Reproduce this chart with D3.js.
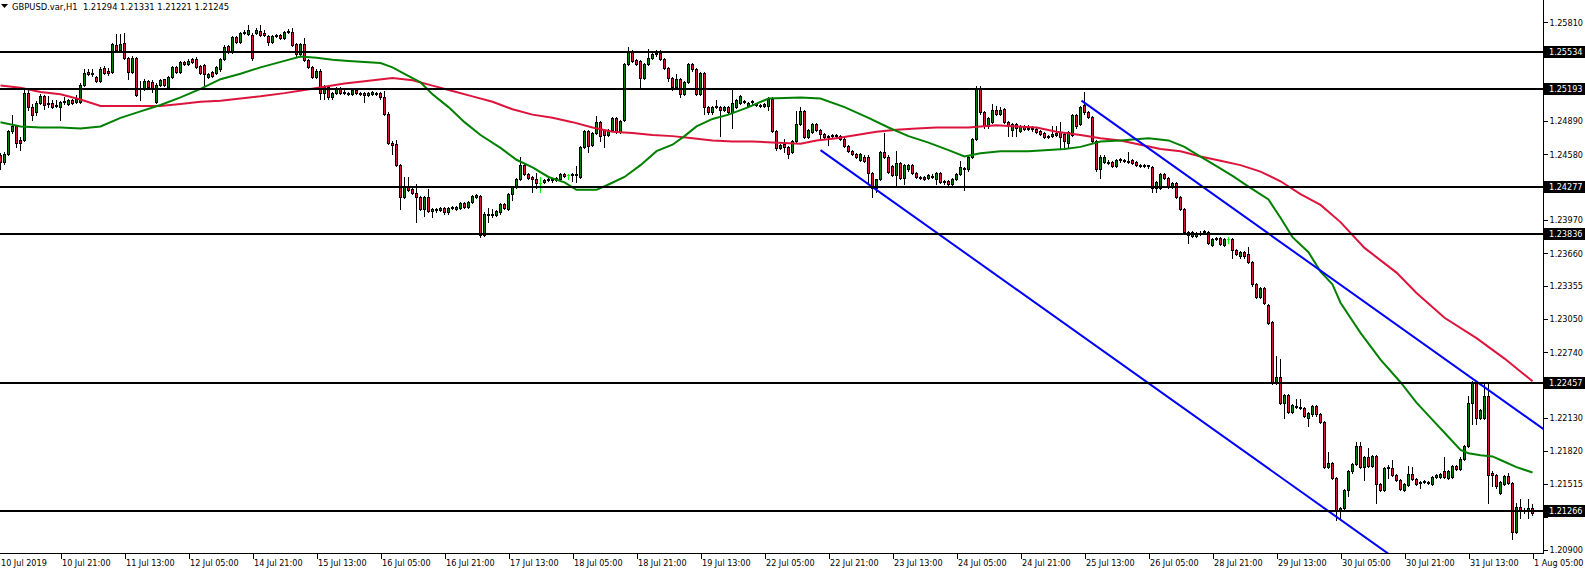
<!DOCTYPE html>
<html><head><meta charset="utf-8">
<script src="https://cdnjs.cloudflare.com/ajax/libs/d3/7.8.5/d3.min.js"></script>
<style>
html,body{margin:0;padding:0;background:#fff;overflow:hidden;}
svg{display:block;}
text{font-family:"DejaVu Sans Condensed","Liberation Sans",sans-serif;}
</style></head><body>
<svg id="c" width="1585" height="571"></svg>
<script>
const symbolTitle = "GBPUSD.var,H1";
const lastOHLC = [1.21294, 1.21331, 1.21221, 1.21245];

const opens = [
1.2457,1.2451,1.2458,1.2480,1.2484,1.2471,1.2471,1.2515,1.2502,1.2497,
1.2506,1.2512,1.2505,1.2506,1.2503,1.2502,1.2507,1.2505,1.2509,1.2507,
1.2507,1.2523,1.2535,1.2534,1.2530,1.2526,1.2538,1.2536,1.2535,1.2560,
1.2555,1.2562,1.2548,1.2535,1.2548,1.2520,1.2519,1.2526,1.2525,1.2507,
1.2523,1.2528,1.2521,1.2530,1.2539,1.2535,1.2544,1.2542,1.2547,1.2547,
1.2540,1.2541,1.2530,1.2535,1.2534,1.2537,1.2547,1.2559,1.2553,1.2567,
1.2563,1.2571,1.2570,1.2569,1.2571,1.2573,1.2571,1.2568,1.2563,1.2568,
1.2569,1.2566,1.2572,1.2572,1.2561,1.2551,1.2561,1.2546,1.2539,1.2530,
1.2536,1.2515,1.2521,1.2511,1.2515,1.2520,1.2516,1.2515,1.2514,1.2518,
1.2515,1.2515,1.2513,1.2514,1.2515,1.2515,1.2511,1.2496,1.2469,1.2468,
1.2448,1.2418,1.2429,1.2426,1.2422,1.2418,1.2407,1.2418,1.2405,1.2407,
1.2406,1.2408,1.2404,1.2408,1.2407,1.2408,1.2413,1.2409,1.2414,1.2418,
1.2419,1.2383,1.2403,1.2402,1.2402,1.2404,1.2412,1.2407,1.2421,1.2428,
1.2435,1.2448,1.2440,1.2437,1.2435,1.2431,1.2432,1.2434,1.2434,1.2434,
1.2435,1.2440,1.2439,1.2439,1.2439,1.2437,1.2465,1.2480,1.2467,1.2478,
1.2488,1.2481,1.2476,1.2481,1.2492,1.2479,1.2490,1.2542,1.2553,1.2546,
1.2545,1.2529,1.2542,1.2548,1.2551,1.2552,1.2547,1.2538,1.2529,1.2521,
1.2528,1.2514,1.2525,1.2542,1.2537,1.2514,1.2534,1.2502,1.2497,1.2502,
1.2502,1.2499,1.2502,1.2497,1.2502,1.2506,1.2507,1.2503,1.2507,1.2505,
1.2504,1.2503,1.2503,1.2510,1.2480,1.2464,1.2468,1.2465,1.2460,1.2470,
1.2486,1.2498,1.2474,1.2479,1.2486,1.2481,1.2477,1.2474,1.2475,1.2476,
1.2475,1.2472,1.2466,1.2461,1.2458,1.2453,1.2456,1.2456,1.2441,1.2427,
1.2435,1.2460,1.2456,1.2447,1.2439,1.2450,1.2436,1.2444,1.2448,1.2441,
1.2437,1.2437,1.2436,1.2438,1.2435,1.2441,1.2432,1.2433,1.2430,1.2435,
1.2440,1.2444,1.2444,1.2456,1.2472,1.2520,1.2497,1.2484,1.2488,1.2499,
1.2496,1.2500,1.2488,1.2481,1.2486,1.2480,1.2484,1.2483,1.2483,1.2482,
1.2480,1.2478,1.2474,1.2475,1.2476,1.2479,1.2477,1.2469,1.2476,1.2495,
1.2486,1.2504,1.2497,1.2493,1.2470,1.2444,1.2451,1.2451,1.2451,1.2447,
1.2453,1.2453,1.2452,1.2453,1.2451,1.2448,1.2448,1.2447,1.2446,1.2427,
1.2427,1.2440,1.2436,1.2428,1.2431,1.2418,1.2407,1.2383,1.2382,1.2382,
1.2385,1.2386,1.2386,1.2374,1.2380,1.2380,1.2374,1.2379,1.2379,1.2369,
1.2363,1.2367,1.2365,1.2358,1.2337,1.2325,1.2334,1.2318,1.2302,1.2246,
1.2251,1.2227,1.2234,1.2218,1.2224,1.2223,1.2222,1.2213,1.2216,1.2224,
1.2216,1.2209,1.2167,1.2171,1.2157,1.2126,1.2129,1.2146,1.2163,1.2170,
1.2187,1.2167,1.2176,1.2168,1.2177,1.2151,1.2146,1.2166,1.2166,1.2160,
1.2155,1.2146,1.2150,1.2161,1.2156,1.2153,1.2154,1.2153,1.2151,1.2158,
1.2158,1.2163,1.2157,1.2158,1.2168,1.2165,1.2175,1.2187,1.2227,1.2246,
1.2213,1.2213,1.2233,1.2162,1.2160,1.2143,1.2151,1.2159,1.2152,1.2107,
1.2130,1.2127,1.2126,1.21294];

const highs = [
1.2459,1.2460,1.2481,1.2495,1.2485,1.2474,1.2519,1.2519,1.2505,1.2508,
1.2514,1.2513,1.2512,1.2509,1.2509,1.2508,1.2511,1.2510,1.2510,1.2513,
1.2524,1.2537,1.2537,1.2537,1.2531,1.2539,1.2540,1.2538,1.2562,1.2570,
1.2570,1.2571,1.2549,1.2550,1.2549,1.2526,1.2528,1.2527,1.2527,1.2524,
1.2528,1.2528,1.2531,1.2540,1.2540,1.2545,1.2545,1.2547,1.2548,1.2549,
1.2541,1.2542,1.2534,1.2536,1.2540,1.2548,1.2560,1.2560,1.2568,1.2568,
1.2572,1.2574,1.2578,1.2571,1.2576,1.2578,1.2574,1.2569,1.2569,1.2570,
1.2570,1.2573,1.2575,1.2576,1.2562,1.2562,1.2566,1.2547,1.2540,1.2537,
1.2537,1.2523,1.2522,1.2516,1.2521,1.2521,1.2518,1.2516,1.2519,1.2519,
1.2516,1.2516,1.2516,1.2517,1.2516,1.2516,1.2517,1.2497,1.2470,1.2471,
1.2449,1.2437,1.2437,1.2427,1.2430,1.2419,1.2419,1.2426,1.2408,1.2408,
1.2409,1.2409,1.2409,1.2410,1.2410,1.2414,1.2414,1.2415,1.2420,1.2421,
1.2420,1.2404,1.2408,1.2407,1.2406,1.2413,1.2413,1.2422,1.2429,1.2436,
1.2456,1.2449,1.2441,1.2438,1.2441,1.2437,1.2435,1.2436,1.2435,1.2437,
1.2441,1.2441,1.2440,1.2441,1.2447,1.2466,1.2481,1.2481,1.2479,1.2494,
1.2489,1.2482,1.2482,1.2493,1.2493,1.2490,1.2543,1.2558,1.2555,1.2547,
1.2546,1.2543,1.2556,1.2552,1.2555,1.2555,1.2548,1.2539,1.2530,1.2533,
1.2529,1.2526,1.2543,1.2543,1.2538,1.2535,1.2535,1.2503,1.2503,1.2509,
1.2503,1.2503,1.2503,1.2518,1.2510,1.2513,1.2509,1.2507,1.2509,1.2506,
1.2505,1.2506,1.2511,1.2511,1.2481,1.2468,1.2472,1.2466,1.2471,1.2498,
1.2502,1.2499,1.2482,1.2487,1.2487,1.2482,1.2478,1.2476,1.2477,1.2477,
1.2476,1.2473,1.2467,1.2462,1.2459,1.2459,1.2457,1.2457,1.2442,1.2435,
1.2461,1.2478,1.2457,1.2448,1.2461,1.2451,1.2449,1.2449,1.2449,1.2442,
1.2438,1.2438,1.2440,1.2440,1.2442,1.2442,1.2434,1.2434,1.2436,1.2441,
1.2452,1.2446,1.2457,1.2473,1.2522,1.2522,1.2498,1.2493,1.2505,1.2503,
1.2502,1.2501,1.2489,1.2487,1.2487,1.2485,1.2485,1.2485,1.2484,1.2483,
1.2481,1.2479,1.2476,1.2484,1.2484,1.2488,1.2478,1.2480,1.2496,1.2496,
1.2503,1.2516,1.2498,1.2494,1.2471,1.2457,1.2457,1.2453,1.2452,1.2454,
1.2455,1.2454,1.2460,1.2454,1.2452,1.2449,1.2449,1.2448,1.2447,1.2433,
1.2441,1.2441,1.2437,1.2432,1.2432,1.2419,1.2408,1.2387,1.2387,1.2386,
1.2387,1.2388,1.2387,1.2380,1.2381,1.2381,1.2380,1.2381,1.2380,1.2370,
1.2368,1.2368,1.2372,1.2359,1.2338,1.2335,1.2335,1.2319,1.2303,1.2270,
1.2268,1.2235,1.2235,1.2226,1.2230,1.2230,1.2223,1.2218,1.2225,1.2225,
1.2217,1.2210,1.2181,1.2172,1.2158,1.2130,1.2147,1.2164,1.2171,1.2190,
1.2190,1.2177,1.2185,1.2178,1.2178,1.2152,1.2167,1.2169,1.2174,1.2161,
1.2156,1.2152,1.2168,1.2167,1.2157,1.2154,1.2155,1.2154,1.2159,1.2161,
1.2162,1.2176,1.2164,1.2169,1.2169,1.2176,1.2188,1.2233,1.2247,1.2247,
1.2221,1.2246,1.2244,1.2163,1.2161,1.2154,1.2160,1.2162,1.2153,1.2134,
1.2137,1.2129,1.2137,1.21331];

const lows = [
1.2444,1.2449,1.2457,1.2478,1.2465,1.2462,1.2470,1.2499,1.2490,1.2495,
1.2505,1.2500,1.2502,1.2501,1.2502,1.2490,1.2505,1.2504,1.2505,1.2506,
1.2506,1.2522,1.2532,1.2531,1.2525,1.2525,1.2533,1.2532,1.2534,1.2555,
1.2555,1.2547,1.2528,1.2534,1.2512,1.2509,1.2518,1.2520,1.2516,1.2506,
1.2522,1.2522,1.2520,1.2529,1.2534,1.2534,1.2541,1.2541,1.2543,1.2538,
1.2533,1.2523,1.2529,1.2530,1.2533,1.2536,1.2546,1.2552,1.2552,1.2562,
1.2562,1.2570,1.2569,1.2546,1.2570,1.2568,1.2568,1.2560,1.2562,1.2567,
1.2565,1.2565,1.2571,1.2559,1.2550,1.2550,1.2545,1.2538,1.2529,1.2529,
1.2510,1.2510,1.2510,1.2510,1.2514,1.2514,1.2514,1.2513,1.2513,1.2514,
1.2513,1.2507,1.2512,1.2513,1.2513,1.2510,1.2495,1.2468,1.2458,1.2447,
1.2407,1.2417,1.2424,1.2421,1.2395,1.2406,1.2401,1.2404,1.2400,1.2404,
1.2405,1.2403,1.2403,1.2407,1.2406,1.2407,1.2408,1.2408,1.2413,1.2417,
1.2381,1.2382,1.2395,1.2400,1.2401,1.2403,1.2407,1.2406,1.2416,1.2427,
1.2434,1.2439,1.2435,1.2423,1.2427,1.2423,1.2431,1.2433,1.2432,1.2433,
1.2434,1.2437,1.2435,1.2433,1.2432,1.2436,1.2464,1.2460,1.2466,1.2477,
1.2470,1.2465,1.2475,1.2480,1.2478,1.2478,1.2489,1.2541,1.2544,1.2541,
1.2521,1.2528,1.2541,1.2547,1.2550,1.2546,1.2537,1.2526,1.2518,1.2520,
1.2511,1.2513,1.2524,1.2536,1.2513,1.2513,1.2496,1.2496,1.2496,1.2501,
1.2475,1.2498,1.2496,1.2483,1.2501,1.2505,1.2506,1.2502,1.2505,1.2503,
1.2502,1.2502,1.2499,1.2479,1.2462,1.2463,1.2460,1.2455,1.2459,1.2469,
1.2485,1.2473,1.2473,1.2478,1.2480,1.2473,1.2473,1.2467,1.2474,1.2474,
1.2471,1.2465,1.2460,1.2457,1.2455,1.2452,1.2451,1.2430,1.2418,1.2423,
1.2434,1.2455,1.2441,1.2438,1.2429,1.2435,1.2430,1.2443,1.2440,1.2436,
1.2435,1.2434,1.2435,1.2436,1.2430,1.2431,1.2430,1.2429,1.2429,1.2434,
1.2439,1.2425,1.2443,1.2455,1.2471,1.2496,1.2483,1.2483,1.2487,1.2495,
1.2495,1.2487,1.2475,1.2475,1.2475,1.2479,1.2481,1.2481,1.2480,1.2478,
1.2476,1.2473,1.2473,1.2474,1.2475,1.2464,1.2465,1.2464,1.2475,1.2483,
1.2485,1.2496,1.2492,1.2469,1.2443,1.2436,1.2450,1.2449,1.2446,1.2446,
1.2451,1.2451,1.2450,1.2449,1.2447,1.2446,1.2446,1.2445,1.2423,1.2423,
1.2426,1.2435,1.2427,1.2427,1.2417,1.2406,1.2385,1.2376,1.2381,1.2381,
1.2383,1.2384,1.2375,1.2373,1.2378,1.2374,1.2373,1.2376,1.2362,1.2364,
1.2362,1.2362,1.2357,1.2336,1.2324,1.2324,1.2319,1.2300,1.2244,1.2244,
1.2226,1.2213,1.2217,1.2217,1.2222,1.2221,1.2214,1.2205,1.2215,1.2215,
1.2208,1.2166,1.2166,1.2156,1.2118,1.2119,1.2128,1.2140,1.2162,1.2169,
1.2166,1.2155,1.2167,1.2167,1.2134,1.2145,1.2145,1.2157,1.2159,1.2154,
1.2146,1.2145,1.2149,1.2155,1.2150,1.2148,1.2152,1.2151,1.2150,1.2157,
1.2157,1.2157,1.2156,1.2157,1.2164,1.2164,1.2174,1.2186,1.2207,1.2207,
1.2212,1.2212,1.2134,1.2149,1.2148,1.2142,1.2150,1.2151,1.2100,1.2106,
1.2120,1.2124,1.2120,1.21221];

const closes = [
1.2451,1.2458,1.2480,1.2484,1.2469,1.2469,1.2515,1.2502,1.2495,1.2506,
1.2512,1.2504,1.2506,1.2502,1.2504,1.2507,1.2508,1.2509,1.2506,1.2510,
1.2523,1.2534,1.2533,1.2533,1.2526,1.2537,1.2534,1.2534,1.2561,1.2555,
1.2561,1.2548,1.2535,1.2548,1.2513,1.2519,1.2526,1.2521,1.2520,1.2523,
1.2527,1.2523,1.2530,1.2539,1.2535,1.2544,1.2542,1.2545,1.2544,1.2539,
1.2534,1.2533,1.2533,1.2531,1.2539,1.2547,1.2558,1.2553,1.2567,1.2563,
1.2571,1.2572,1.2574,1.2548,1.2574,1.2569,1.2569,1.2563,1.2568,1.2569,
1.2566,1.2572,1.2573,1.2560,1.2551,1.2561,1.2546,1.2539,1.2530,1.2536,
1.2515,1.2521,1.2511,1.2515,1.2520,1.2515,1.2515,1.2514,1.2518,1.2515,
1.2514,1.2513,1.2515,1.2516,1.2514,1.2511,1.2496,1.2469,1.2467,1.2448,
1.2418,1.2429,1.2425,1.2422,1.2418,1.2407,1.2418,1.2405,1.2407,1.2406,
1.2408,1.2404,1.2408,1.2409,1.2409,1.2413,1.2409,1.2414,1.2419,1.2420,
1.2383,1.2403,1.2402,1.2403,1.2405,1.2412,1.2408,1.2421,1.2428,1.2435,
1.2448,1.2440,1.2436,1.2435,1.2431,1.2431,1.2434,1.2435,1.2435,1.2436,
1.2440,1.2438,1.2439,1.2440,1.2440,1.2465,1.2480,1.2466,1.2478,1.2488,
1.2475,1.2476,1.2481,1.2492,1.2479,1.2489,1.2542,1.2553,1.2545,1.2542,
1.2529,1.2542,1.2548,1.2551,1.2552,1.2547,1.2538,1.2529,1.2521,1.2528,
1.2514,1.2525,1.2542,1.2537,1.2514,1.2534,1.2502,1.2497,1.2502,1.2503,
1.2499,1.2502,1.2497,1.2506,1.2509,1.2512,1.2508,1.2506,1.2508,1.2504,
1.2503,1.2505,1.2510,1.2480,1.2464,1.2467,1.2465,1.2458,1.2470,1.2486,
1.2498,1.2474,1.2481,1.2486,1.2481,1.2477,1.2474,1.2475,1.2476,1.2475,
1.2472,1.2466,1.2461,1.2458,1.2456,1.2458,1.2452,1.2441,1.2427,1.2435,
1.2460,1.2456,1.2442,1.2439,1.2450,1.2436,1.2448,1.2448,1.2441,1.2437,
1.2436,1.2435,1.2439,1.2437,1.2441,1.2432,1.2433,1.2430,1.2435,1.2440,
1.2446,1.2445,1.2456,1.2472,1.2520,1.2497,1.2484,1.2492,1.2499,1.2496,
1.2499,1.2488,1.2484,1.2486,1.2483,1.2484,1.2482,1.2482,1.2482,1.2479,
1.2477,1.2474,1.2475,1.2477,1.2478,1.2474,1.2470,1.2479,1.2495,1.2484,
1.2502,1.2497,1.2493,1.2470,1.2444,1.2456,1.2456,1.2450,1.2447,1.2453,
1.2454,1.2452,1.2451,1.2450,1.2448,1.2447,1.2447,1.2448,1.2427,1.2432,
1.2440,1.2436,1.2428,1.2431,1.2418,1.2407,1.2386,1.2386,1.2386,1.2385,
1.2384,1.2387,1.2376,1.2379,1.2379,1.2375,1.2379,1.2379,1.2369,1.2365,
1.2367,1.2363,1.2358,1.2337,1.2325,1.2334,1.2320,1.2301,1.2246,1.2251,
1.2227,1.2234,1.2218,1.2225,1.2223,1.2222,1.2215,1.2217,1.2224,1.2216,
1.2209,1.2167,1.2171,1.2157,1.2126,1.2129,1.2146,1.2163,1.2170,1.2187,
1.2167,1.2176,1.2168,1.2177,1.2151,1.2146,1.2166,1.2167,1.2160,1.2155,
1.2147,1.2151,1.2161,1.2156,1.2151,1.2152,1.2153,1.2152,1.2158,1.2160,
1.2161,1.2158,1.2163,1.2168,1.2165,1.2175,1.2187,1.2227,1.2246,1.2213,
1.2220,1.2233,1.2160,1.2160,1.2149,1.2153,1.2159,1.2152,1.2107,1.2130,
1.2127,1.2126,1.2129,1.21245];

// moving averages: [bar index, price]
const maGreen = [[0,1.2488],[5,1.2484],[10,1.2483],[15,1.2483],[20,1.2482],[25,1.2484],[30,1.2492],[35,1.2498],[40,1.2504],[45,1.2511],[50,1.2519],[55,1.2528],[60,1.2533],[65,1.2539],[71,1.2545],[75,1.2549],[79,1.2548],[83,1.2546],[87,1.2545],[91,1.2544],[95,1.2543],[98,1.2539],[101,1.2533],[105,1.2525],[108,1.2514],[112,1.2502],[116,1.2488],[120,1.2476],[125,1.2464],[129,1.2453],[133,1.2446],[137,1.2437],[141,1.2432],[144,1.2425],[149,1.2425],[152,1.2430],[156,1.2437],[160,1.2448],[164,1.2461],[168,1.2467],[171,1.2475],[174,1.2484],[178,1.2491],[182,1.2495],[187,1.2502],[192,1.2510],[200,1.2511],[205,1.2510],[211,1.2502],[217,1.2492],[222,1.2483],[227,1.2475],[232,1.2469],[237,1.2462],[241,1.2456],[245,1.2459],[250,1.2461],[257,1.2461],[262,1.2462],[266,1.2463],[270,1.2465],[275,1.2470],[280,1.2471],[287,1.2473],[292,1.2471],[296,1.2465],[300,1.2456],[304,1.2447],[308,1.2438],[312,1.2428],[317,1.2416],[320,1.2399],[323,1.2381],[327,1.2367],[330,1.2349],[333,1.2337],[335,1.2320],[340,1.2292],[345,1.2267],[350,1.2246],[354,1.2227],[358,1.2211],[362,1.2195],[365,1.2183],[367,1.2180],[370,1.2178],[373,1.2177],[376,1.2172],[379,1.2167],[383,1.2162]];
const maRed = [[0,1.2522],[5,1.2520],[10,1.2516],[15,1.2514],[20,1.2509],[25,1.2503],[32,1.2503],[40,1.2503],[45,1.2505],[50,1.2507],[55,1.2508],[60,1.2510],[65,1.2512],[71,1.2515],[76,1.2518],[81,1.2521],[86,1.2524],[91,1.2526],[98,1.2529],[103,1.2527],[108,1.2522],[113,1.2517],[118,1.2512],[123,1.2507],[128,1.2500],[133,1.2495],[138,1.2492],[143,1.2488],[148,1.2483],[153,1.2479],[158,1.2478],[163,1.2476],[168,1.2475],[173,1.2473],[178,1.2471],[183,1.2470],[188,1.2470],[193,1.2469],[200,1.2468],[204,1.2471],[209,1.2473],[214,1.2476],[219,1.2479],[224,1.2481],[229,1.2482],[234,1.2483],[242,1.2483],[249,1.2485],[254,1.2484],[259,1.2483],[264,1.2479],[270,1.2476],[275,1.2473],[280,1.2471],[285,1.2467],[290,1.2463],[295,1.2461],[300,1.2456],[305,1.2452],[310,1.2448],[315,1.2442],[320,1.2433],[325,1.2421],[330,1.2411],[335,1.2395],[341,1.2371],[349,1.2348],[354,1.2329],[361,1.2306],[369,1.2287],[376,1.2268],[383,1.2247]];

// channel anchors [bar index, price]
const channelUpper = [[270.25,1.2508],[382.5,1.2211]];
const channelLower = [[205,1.2462],[346.75,1.2087]];

const levels = [1.25534,1.25193,1.24277,1.23836,1.22457,1.21266];
const priceTicks = [1.25810,1.25500,1.25195,1.24890,1.24580,1.24275,1.23970,1.23660,1.23355,1.23050,1.22740,1.22435,1.22130,1.21820,1.21515,1.21210,1.20900];
const hiddenTickLabels = [1.25500,1.25195,1.24275,1.22435,1.21210];
const timeLabels = ["10 Jul 2019","10 Jul 21:00","11 Jul 13:00","12 Jul 05:00","14 Jul 21:00","15 Jul 13:00","16 Jul 05:00","16 Jul 21:00","17 Jul 13:00","18 Jul 05:00","18 Jul 21:00","19 Jul 13:00","22 Jul 05:00","22 Jul 21:00","23 Jul 13:00","24 Jul 05:00","24 Jul 21:00","25 Jul 13:00","26 Jul 05:00","28 Jul 21:00","29 Jul 13:00","30 Jul 05:00","30 Jul 21:00","31 Jul 13:00","1 Aug 05:00"];
const timeLabelBars = [-1,15,31,47,63,79,95,111,127,143,159,175,191,207,223,239,255,271,287,303,319,335,351,367,383];

const plotR = 1543, plotB = 553;
const FONT = '"DejaVu Sans Condensed","Liberation Sans",sans-serif';
const svg = d3.select("#c");
const x = d3.scaleLinear().domain([0,383]).range([0.5,1532.5]);
const y = d3.scaleLinear().domain([1.20900,1.25810]).range([549.9,22.2]);

svg.append("defs").append("clipPath").attr("id","plot")
  .append("rect").attr("x",0).attr("y",0).attr("width",plotR).attr("height",plotB);
const g = svg.append("g").attr("clip-path","url(#plot)");

// candles
const bars = opens.map((o,i)=>({i,o,h:highs[i],l:lows[i],c:closes[i]}));
const cg = g.append("g").attr("shape-rendering","crispEdges");
const bullFill = "#008000", bearFill = "#dc143c";
bars.forEach(b=>{
  const cx = Math.round(x(b.i)-0.5)+0.5;
  const yo = Math.round(y(b.o)), yc = Math.round(y(b.c));
  const yh = Math.round(y(b.h)), yl = Math.round(y(b.l));
  const doji = b.o === b.c;
  const wickCol = doji ? "#00ff00" : "#000";
  cg.append("line").attr("x1",cx).attr("x2",cx).attr("y1",yh).attr("y2",yl+1).attr("stroke",wickCol);
  const top = Math.min(yo,yc), bot = Math.max(yo,yc);
  if (doji) {
    cg.append("line").attr("x1",cx-1.5).attr("x2",cx+1.5).attr("y1",top+0.5).attr("y2",top+0.5).attr("stroke","#00ff00");
  } else if (bot === top) {
    cg.append("line").attr("x1",cx-1.5).attr("x2",cx+1.5).attr("y1",top+0.5).attr("y2",top+0.5).attr("stroke","#000");
  } else {
    cg.append("rect").attr("x",cx-1).attr("y",top+0.5).attr("width",2).attr("height",bot-top)
      .attr("fill", b.c > b.o ? bullFill : bearFill).attr("stroke","#000");
  }
});

// moving averages
const line = d3.line().x(d=>x(d[0])).y(d=>y(d[1]));
g.append("path").datum(maRed).attr("d",line).attr("fill","none").attr("stroke","#dc143c").attr("stroke-width",2);
g.append("path").datum(maGreen).attr("d",line).attr("fill","none").attr("stroke","#008000").attr("stroke-width",2);

// channel rays
function ray(a, endBar){
  const [t0,p0]=a[0],[t1,p1]=a[1];
  return [[t0,p0],[endBar, p0 + (p1-p0)*(endBar-t0)/(t1-t0)]];
}
[channelUpper, channelLower].forEach(ch=>{
  g.append("path").datum(ray(ch, 400)).attr("d",line).attr("fill","none").attr("stroke","#0000ff").attr("stroke-width",2);
});

// horizontal levels
g.selectAll(".lvl").data(levels).enter().append("line").attr("class","lvl")
  .attr("x1",0).attr("x2",plotR).attr("y1",d=>Math.round(y(d))).attr("y2",d=>Math.round(y(d)))
  .attr("stroke","#000").attr("stroke-width",2).attr("shape-rendering","crispEdges");

// borders
svg.append("line").attr("x1",plotR+0.5).attr("x2",plotR+0.5).attr("y1",0).attr("y2",plotB+1).attr("stroke","#000").attr("shape-rendering","crispEdges");
svg.append("line").attr("x1",0).attr("x2",plotR+1).attr("y1",plotB+0.5).attr("y2",plotB+0.5).attr("stroke","#000").attr("shape-rendering","crispEdges");

// price axis
const ya = svg.append("g").attr("transform",`translate(${plotR+0.5},0)`)
  .call(d3.axisRight(y).tickValues(priceTicks).tickFormat(d3.format(".5f")).tickSize(4).tickSizeOuter(0));
ya.select(".domain").remove();
ya.attr("font-family",FONT).attr("font-size",9);
ya.selectAll("text").attr("x",6).attr("fill","#000");
ya.selectAll(".tick").filter(d=>hiddenTickLabels.includes(d)).select("text").remove();
ya.selectAll("line").attr("stroke","#000").attr("shape-rendering","crispEdges");

// level boxes
const lb = svg.append("g");
levels.forEach(v=>{
  const ly = Math.round(y(v));
  lb.append("rect").attr("x",plotR+1).attr("y",ly-6).attr("width",1585-plotR-1).attr("height",12).attr("fill","#000");
  lb.append("text").attr("x",plotR+6).attr("y",ly).attr("dy","0.34em").attr("fill","#fff")
    .attr("font-family",FONT).attr("font-size",9).text(d3.format(".5f")(v));
});

// time axis
const xa = svg.append("g").attr("transform",`translate(0,${plotB+0.5})`)
  .call(d3.axisBottom(x).tickValues(timeLabelBars).tickFormat((d,i)=>timeLabels[i]).tickSize(5).tickSizeOuter(0));
xa.select(".domain").remove();
xa.attr("font-family",FONT).attr("font-size",9);
xa.selectAll("text").attr("text-anchor","start").attr("x",(d)=> d<0 ? 4 : 1).attr("y",6).attr("fill","#000");
xa.selectAll("line").attr("stroke","#000").attr("shape-rendering","crispEdges");

// header
svg.append("path").attr("d","M1,4 L8,4 L4.5,8 Z").attr("fill","#000");
svg.append("text").attr("x",12).attr("y",10).attr("font-family",FONT).attr("font-size",9.3)
  .attr("fill","#000").style("white-space","pre")
  .text(symbolTitle + "  " + lastOHLC.map(d3.format(".5f")).join(" "));
</script>
</body></html>
